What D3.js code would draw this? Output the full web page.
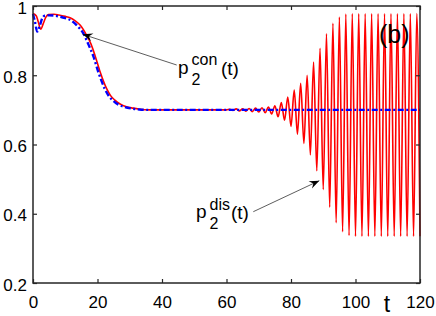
<!DOCTYPE html>
<html><head><meta charset="utf-8">
<script src="https://cdn.jsdelivr.net/npm/d3@7"></script>
<style>
html,body{margin:0;padding:0;background:#fff;}
svg{display:block;font-family:"Liberation Sans",Arial,Helvetica,sans-serif;}
</style></head>
<body>
<svg id="chart" width="436" height="316"></svg>
<script>
// ---- data ----
const xTicks = [0, 20, 40, 60, 80, 100, 120];
const yTicks = [0.2, 0.4, 0.6, 0.8, 1];
const yTickLabels = ["0.2", "0.4", "0.6", "0.8", "1"];

// p2^dis(t): red solid
const disT = [0, 1, 1.6, 2.4, 3.2, 4, 4.8, 6.5, 8, 10, 11.5, 13, 14.6, 16.6, 18, 19.2, 20.8, 22.8, 24, 25.4, 27, 29, 31, 33, 36, 40, 50, 60,
  61, 62, 63, 64, 65, 66, 67, 68, 69, 70, 71, 72, 73, 74, 75, 76, 77, 78, 79, 80,
  81, 82, 83, 84, 85, 86, 87, 88, 89, 90, 91, 92, 93, 94, 95, 96, 97, 98, 99, 100,
  101, 102, 103, 104, 105, 106, 107, 108, 109, 110, 111, 112, 113, 114, 115, 116, 117, 118, 119, 120];
const disV = [0.978, 0.972, 0.955, 0.933, 0.95, 0.968, 0.975, 0.976, 0.974, 0.97, 0.966, 0.958, 0.945, 0.916, 0.89, 0.858, 0.81, 0.762, 0.742, 0.728, 0.717, 0.709, 0.705, 0.702, 0.7, 0.7, 0.7, 0.7,
  0.702, 0.698, 0.703, 0.697, 0.703, 0.696, 0.704, 0.695, 0.705, 0.694, 0.706, 0.692, 0.708, 0.688, 0.712, 0.680, 0.721, 0.670, 0.737, 0.652,
  0.757, 0.630, 0.777, 0.603, 0.800, 0.570, 0.838, 0.524, 0.878, 0.470, 0.920, 0.419, 0.950, 0.374, 0.968, 0.348, 0.977, 0.337, 0.978, 0.335,
  0.978, 0.335, 0.978, 0.335, 0.978, 0.335, 0.978, 0.335, 0.978, 0.335, 0.978, 0.335, 0.978, 0.335, 0.978, 0.335, 0.978, 0.335, 0.978, 0.335];

// p2^con(t): blue dash-dot
const conT = [0, 0.6, 1.3, 2, 2.8, 3.6, 5, 8, 10, 12, 14, 15.6, 17, 18.7, 20.3, 22.3, 23.5, 25, 26.5, 28.5, 30.5, 33, 36, 60, 90, 120];
const conV = [0.977, 0.955, 0.926, 0.94, 0.963, 0.972, 0.973, 0.97, 0.965, 0.957, 0.94, 0.921, 0.893, 0.855, 0.808, 0.76, 0.74, 0.725, 0.715, 0.708, 0.704, 0.701, 0.7, 0.7, 0.7, 0.7];

// ---- layout ----
const svg = d3.select("#chart");
const L = 33, R = 420, T = 6, B = 283;
const x = d3.scaleLinear().domain([0, 120]).range([L, R]);
const y = d3.scaleLinear().domain([0.2, 1]).range([B, T]);
const axisColor = "#262626";

const line = d3.line().x(d => x(d[0])).y(d => y(d[1])).curve(d3.curveMonotoneX);

svg.append("path")
  .datum(disT.map((t, i) => [t, disV[i]]))
  .attr("d", line).attr("fill", "none")
  .attr("stroke", "#ff0000").attr("stroke-width", 1.6).attr("stroke-linejoin", "round");

svg.append("path")
  .datum(conT.map((t, i) => [t, conV[i]]))
  .attr("d", line).attr("fill", "none")
  .attr("stroke", "#0000ff").attr("stroke-width", 2.4)
  .attr("stroke-dasharray", "6,2.5,2,2.5");

// axes
function styleAxis(g, showText) {
  g.select(".domain").remove();
  g.selectAll(".tick line").attr("stroke", axisColor).attr("stroke-width", 1.2);
  g.selectAll(".tick text").attr("fill", showText ? "#000" : "none").attr("font-size", 17);
}
const fmtY = d => yTickLabels[yTicks.indexOf(d)];
svg.append("g").attr("transform", `translate(0,${B})`)
  .call(d3.axisBottom(x).tickValues(xTicks).tickSize(-4).tickPadding(13).tickFormat(d => String(d)))
  .call(g => styleAxis(g, true));
svg.append("g").attr("transform", `translate(0,${T})`)
  .call(d3.axisTop(x).tickValues(xTicks).tickSize(-4).tickFormat(""))
  .call(g => styleAxis(g, false));
svg.append("g").attr("transform", `translate(${L},0)`)
  .call(d3.axisLeft(y).tickValues(yTicks).tickSize(-4).tickPadding(6).tickFormat(fmtY))
  .call(g => { styleAxis(g, true); g.selectAll(".tick text").attr("dy", "0.42em"); });
svg.append("g").attr("transform", `translate(${R},0)`)
  .call(d3.axisRight(y).tickValues(yTicks).tickSize(-4).tickFormat(""))
  .call(g => styleAxis(g, false));

svg.append("rect").attr("x", L).attr("y", T).attr("width", R - L).attr("height", B - T)
  .attr("fill", "none").attr("stroke", axisColor).attr("stroke-width", 1.5);

// x label
svg.append("text").attr("x", 387).attr("y", 312).attr("text-anchor", "middle")
  .attr("font-size", 23).text("t");

// panel label
svg.append("text").attr("x", 379).attr("y", 43).attr("font-size", 25).text("(b)");

// annotations
function arrow(x1, y1, x2, y2) {
  svg.append("line").attr("x1", x1).attr("y1", y1).attr("x2", x2).attr("y2", y2)
    .attr("stroke", "#333").attr("stroke-width", 0.8);
  const a = Math.atan2(y2 - y1, x2 - x1);
  const len = 10, w = 4;
  const bx = x2 - len * Math.cos(a), by = y2 - len * Math.sin(a);
  const nx = x2 - 0.65 * len * Math.cos(a), ny = y2 - 0.65 * len * Math.sin(a);
  const px = -Math.sin(a), py = Math.cos(a);
  svg.append("path")
    .attr("d", `M${x2},${y2}L${bx + px * w},${by + py * w}L${nx},${ny}L${bx - px * w},${by - py * w}Z`)
    .attr("fill", "#000");
}
arrow(176.7, 65, 82.7, 34.3);
arrow(253.3, 211.7, 319.3, 180.7);

function plabel(px, base, sup) {
  svg.append("text").attr("x", px).attr("y", base).attr("font-size", 19).text("p");
  svg.append("text").attr("x", px + 13.5).attr("y", base + 11).attr("font-size", 16).text("2");
  svg.append("text").attr("x", px + 13.5).attr("y", base - 8.5).attr("font-size", 16).text(sup);
  const supW = sup === "con" ? 29.5 : 21.5;
  svg.append("text").attr("x", px + 13.5 + supW).attr("y", base + 1).attr("font-size", 19).text("(t)");
}
plabel(178, 73.5, "con");
plabel(196, 218, "dis");
</script>
</body></html>
